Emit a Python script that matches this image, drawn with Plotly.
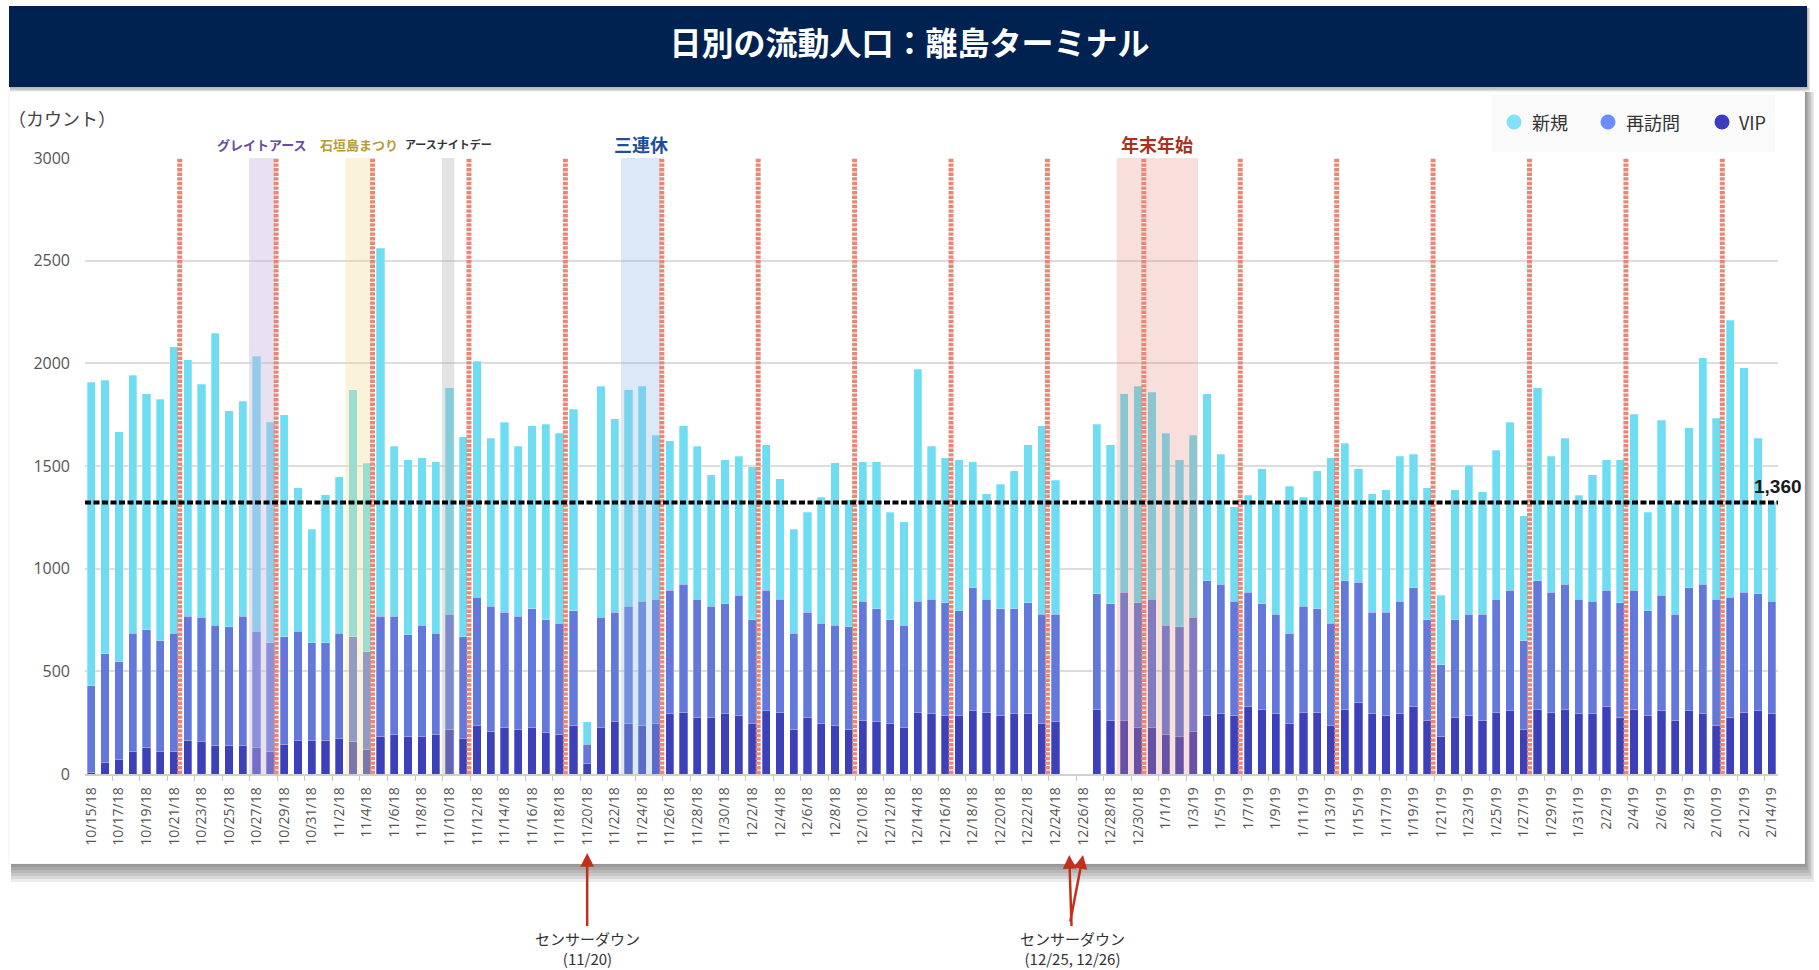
import pandas as pd
import plotly.graph_objects as go

# ---------------- data ----------------
dates = list(pd.date_range("2018-10-15", "2019-02-14", freq="D"))

new_visitors = [
    1478, 1331, 1120, 1257, 1149, 1177, 1396, 1249, 1134, 1423,
    1054, 1046, 1339, 1074, 1081, 699, 553, 719, 763, 1204,
    918, 1792, 826, 853, 816, 836, 1101, 974, 1148, 816,
    927, 826, 892, 952, 925, 982, 108, 1125, 944, 1054,
    1047, 798, 730, 771, 744, 640, 702, 677, 745, 709,
    588, 508, 488, 615, 791, 619, 680, 717, 523, 504,
    1129, 744, 706, 736, 613, 513, 607, 674, 769, 917,
    652, None, None, 826, 775, 968, 1054, 1009, 935, 814,
    886, 911, 633, 461, 473, 658, 543, 717, 531, 674,
    806, 671, 553, 577, 597, 707, 650, 642, 338, 632,
    724, 595, 726, 820, 609, 939, 664, 709, 506, 617,
    636, 696, 857, 481, 853, 541, 779, 1101, 882, 1349,
    1095, 756, 484,
]
revisit = [
    424, 529, 477, 574, 572, 537, 574, 605, 607, 585,
    577, 630, 564, 529, 522, 531, 476, 476, 513, 512,
    478, 586, 576, 494, 541, 492, 562, 496, 623, 609,
    559, 552, 576, 549, 541, 556, 97, 535, 533, 572,
    603, 605, 601, 624, 574, 541, 535, 586, 506, 586,
    550, 468, 510, 488, 486, 499, 579, 550, 506, 496,
    540, 558, 549, 509, 600, 550, 519, 511, 541, 533,
    525, None, None, 562, 566, 622, 606, 623, 531, 531,
    554, 656, 632, 556, 554, 512, 486, 439, 517, 503,
    496, 625, 587, 494, 502, 548, 578, 490, 348, 475,
    494, 517, 550, 586, 431, 625, 583, 609, 558, 548,
    564, 557, 578, 509, 563, 517, 600, 632, 613, 584,
    583, 570, 548,
]
vip = [
    5, 57, 70, 111, 131, 111, 111, 164, 156, 139,
    139, 139, 131, 111, 146, 164, 164, 164, 172, 156,
    117, 183, 193, 183, 183, 193, 217, 172, 238, 209,
    228, 217, 228, 203, 193, 238, 49, 228, 254, 246,
    238, 246, 293, 301, 277, 277, 293, 285, 246, 308,
    301, 217, 277, 246, 238, 217, 262, 254, 246, 228,
    301, 293, 285, 285, 308, 301, 285, 293, 293, 246,
    254, None, None, 316, 262, 262, 228, 228, 193, 185,
    209, 285, 293, 285, 330, 316, 293, 246, 301, 301,
    238, 316, 346, 293, 285, 293, 330, 262, 185, 277,
    285, 262, 301, 308, 217, 316, 301, 316, 293, 293,
    330, 277, 316, 285, 308, 262, 308, 293, 238, 277,
    301, 308, 293,
]

series_names = ["新規", "再訪問", "VIP"]
average_value = 1322
average_label = "1,360"

event_names = ["グレイトアース", "石垣島まつり", "アースナイトデー", "三連休", "年末年始"]
event_starts = ["2018-10-27", "2018-11-03", "2018-11-10", "2018-11-23", "2018-12-29"]
event_ends = ["2018-10-28", "2018-11-04", "2018-11-10", "2018-11-25", "2019-01-03"]

sensor_notes = ["センサーダウン<br>(11/20)", "センサーダウン<br>(12/25, 12/26)"]
sensor_days = [["2018-11-20"], ["2018-12-25", "2018-12-26"]]

title_text = "日別の流動人口：離島ターミナル"
y_title = "（カウント）"

# ---------------- styling ----------------
W, H = 1819, 970
PL, PR, PT, PB = 85, 1778, 158, 774   # plot area in pixels
DAY = pd.Timedelta(days=1)

def px_x(p):
    return (p - PL) / (PR - PL)

def px_y(p):
    return (PB - p) / (PB - PT)

col_new = "#6EDDF2"
col_rev = "#6279DB"
col_vip = "#3C40B9"
leg_new = "#82E1F5"
leg_rev = "#6C8CFF"
leg_vip = "#3B3DBE"

event_fill = ["rgba(200,180,222,0.40)", "rgba(240,220,150,0.35)", "rgba(175,175,175,0.35)",
              "rgba(150,190,232,0.35)", "rgba(222,130,110,0.25)"]
event_text_col = ["#6A4C9C", "#B89B3C", "#333333", "#1F4E9A", "#A8321E"]
event_text_size = [13, 13, 11, 18, 18]

fig = go.Figure()
bar_w = 0.6 * 86400000
line_w = dict(width=0.8, color="rgba(255,255,255,0.35)")
fig.add_bar(x=dates, y=vip, name=series_names[2], marker=dict(color=col_vip, line=line_w),
            width=bar_w, showlegend=False)
fig.add_bar(x=dates, y=revisit, name=series_names[1], marker=dict(color=col_rev, line=line_w),
            width=bar_w, showlegend=False)
fig.add_bar(x=dates, y=new_visitors, name=series_names[0], marker=dict(color=col_new, line=line_w),
            width=bar_w, showlegend=False)

shapes = []
annotations = []

# shadows / card / banner
for k in range(1, 7):
    shapes.append(dict(type="rect", xref="paper", yref="paper", layer="below",
                       x0=px_x(11), x1=px_x(1805 + k * 1.5), y0=px_y(92), y1=px_y(864 + k * 3),
                       fillcolor="rgba(0,0,0,0.08)", line=dict(width=0)))
shapes.append(dict(type="rect", xref="paper", yref="paper", layer="below",
                   x0=px_x(9), x1=px_x(1805), y0=px_y(90), y1=px_y(864),
                   fillcolor="white", line=dict(color="rgba(0,0,0,0.06)", width=1)))
for k in range(1, 4):
    shapes.append(dict(type="rect", xref="paper", yref="paper", layer="below",
                       x0=px_x(10), x1=px_x(1807 + k), y0=px_y(8), y1=px_y(87 + k * 1.5),
                       fillcolor="rgba(0,0,0,0.10)", line=dict(width=0)))
shapes.append(dict(type="rect", xref="paper", yref="paper", layer="below",
                   x0=px_x(9), x1=px_x(1807), y0=px_y(6), y1=px_y(87),
                   fillcolor="#002250", line=dict(width=0)))
# legend box
shapes.append(dict(type="rect", xref="paper", yref="paper", layer="below",
                   x0=px_x(1492), x1=px_x(1775), y0=px_y(95), y1=px_y(152),
                   fillcolor="#FAFAFA", line=dict(width=0)))

# event bands and labels
for name, s, e, fc, tc, ts in zip(event_names, event_starts, event_ends, event_fill,
                                  event_text_col, event_text_size):
    x0 = pd.Timestamp(s) - 0.55 * DAY
    x1 = pd.Timestamp(e) + 0.35 * DAY
    shapes.append(dict(type="rect", xref="x", yref="paper", layer="above",
                       x0=x0, x1=x1, y0=0, y1=1, fillcolor=fc, line=dict(width=0)))
    annotations.append(dict(text="<b>%s</b>" % name, xref="x", yref="paper",
                            x=x0 + (x1 - x0) / 2, y=px_y(144), showarrow=False,
                            xanchor="center", yanchor="middle",
                            font=dict(size=ts, color=tc, family="Noto Sans CJK JP")))

# weekly separators (after each Sunday)
for d in dates:
    if d.weekday() == 6:
        xs = d + pd.Timedelta(hours=10)
        shapes.append(dict(type="line", xref="x", yref="paper", layer="above",
                           x0=xs, x1=xs, y0=0, y1=1, line=dict(color="white", width=1.4)))
        shapes.append(dict(type="line", xref="x", yref="paper", layer="above",
                           x0=xs, x1=xs, y0=0, y1=1,
                           line=dict(color="rgb(230,136,120)", width=5, dash="3.4px,1.2px")))

# average line
shapes.append(dict(type="line", xref="paper", yref="y", layer="above",
                   x0=0, x1=1, y0=average_value, y1=average_value,
                   line=dict(color="black", width=4, dash="6px,2.5px")))
annotations.append(dict(text="<b>%s</b>" % average_label, xref="paper", yref="y", x=1.0,
                        y=average_value, yshift=16, showarrow=False, xanchor="center",
                        yanchor="middle",
                        font=dict(size=19, color="#1a1a1a", family="Liberation Sans")))

# manual legend
leg_items = [(series_names[0], leg_new, 1514, 1530), (series_names[1], leg_rev, 1608, 1624),
             (series_names[2], leg_vip, 1722, 1737)]
for nm, c, cx, tx in leg_items:
    shapes.append(dict(type="circle", xref="paper", yref="paper",
                       xsizemode="pixel", ysizemode="pixel",
                       xanchor=px_x(cx), yanchor=px_y(122),
                       x0=-7.5, x1=7.5, y0=-7.5, y1=7.5,
                       fillcolor=c, line=dict(width=0)))
    annotations.append(dict(text=nm, xref="paper", yref="paper", x=px_x(tx), y=px_y(122),
                            xanchor="left", yanchor="middle", showarrow=False,
                            font=dict(size=18, color="#333", family="Noto Sans CJK JP")))

# y axis title
annotations.append(dict(text=y_title, xref="paper", yref="paper", x=px_x(6), y=px_y(118),
                        xanchor="left", yanchor="middle", showarrow=False,
                        font=dict(size=18, color="#444", family="Noto Sans CJK JP")))

# sensor-down arrows
arrow_col = "#C0301C"
annotations.append(dict(text=sensor_notes[0], xref="x", yref="paper",
                        x=pd.Timestamp(sensor_days[0][0]), y=px_y(853),
                        ax=0, ay=95, showarrow=True, arrowhead=2, arrowsize=1.1,
                        arrowwidth=2.5, arrowcolor=arrow_col, standoff=0,
                        font=dict(size=15, color="#333", family="Noto Sans CJK JP")))
annotations.append(dict(text=sensor_notes[1], xref="x", yref="paper",
                        x=pd.Timestamp(sensor_days[1][0]), y=px_y(855),
                        ax=3, ay=93, showarrow=True, arrowhead=2, arrowsize=1.1,
                        arrowwidth=2.5, arrowcolor=arrow_col, standoff=0,
                        font=dict(size=15, color="#333", family="Noto Sans CJK JP")))
annotations.append(dict(text="", xref="x", yref="paper",
                        x=pd.Timestamp(sensor_days[1][1]), y=px_y(855),
                        ax=-13, ay=68, showarrow=True, arrowhead=2, arrowsize=1.1,
                        arrowwidth=2.5, arrowcolor=arrow_col, standoff=0))

x_lo = dates[0] - 0.46 * DAY
x_hi = dates[-1] + 0.46 * DAY

fig.update_layout(
    width=W, height=H,
    margin=dict(l=PL, r=W - PR, t=PT, b=H - PB, autoexpand=False),
    paper_bgcolor="white", plot_bgcolor="rgba(0,0,0,0)",
    barmode="stack",
    font=dict(family="Open Sans, Noto Sans CJK JP", color="#555"),
    title=dict(text="<b>%s</b>" % title_text, x=0.5, xref="container", xanchor="center",
               y=1 - 44 / H, yref="container", yanchor="middle",
               font=dict(size=32, color="white", family="Noto Sans CJK JP")),
    showlegend=False,
    shapes=shapes,
    annotations=annotations,
    xaxis=dict(type="date", range=[x_lo, x_hi], tickformat="%-m/%-d/%y",
               dtick=2 * 86400000, tick0="2018-10-15", tickangle=-90,
               tickfont=dict(size=14, color="#555"), showgrid=False,
               showline=True, linecolor="#D0D0D0", linewidth=1.5, ticks="",
               ticklabelstandoff=6,
               minor=dict(ticks="outside", dtick=2 * 86400000, tick0="2018-10-14 12:00",
                          ticklen=5, tickcolor="#C8C8C8", tickwidth=1, showgrid=False)),
    yaxis=dict(range=[0, 3000], dtick=500, tickformat="d", showgrid=True,
               gridcolor="#DCDCDC", gridwidth=1.5, zeroline=False,
               tickfont=dict(size=16, color="#555"), ticks="", ticklabelstandoff=14),
)

fig.write_html("out.html", config={"displayModeBar": False},
               post_script="document.body.style.margin='0px';document.body.style.overflow='hidden';")
